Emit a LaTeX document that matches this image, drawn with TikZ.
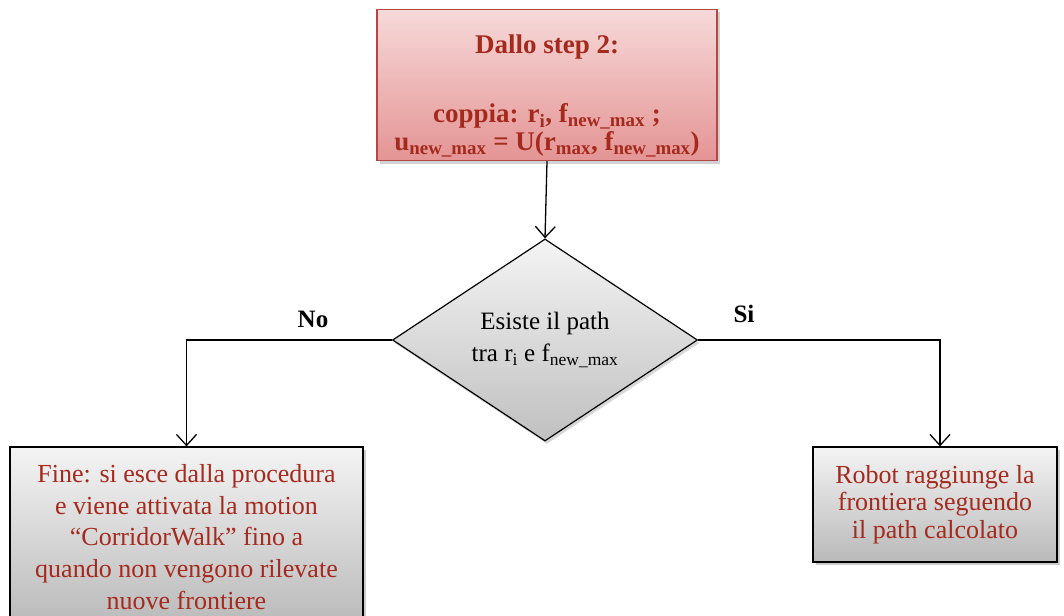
\documentclass[tikz,border=0pt]{standalone}
\usepackage{fontspec}
\setmainfont{Liberation Serif}
\usetikzlibrary{shapes.geometric,arrows.meta,shadows}
\definecolor{txtred}{HTML}{A52A1E}
\definecolor{pinktop}{HTML}{F7D9D9}
\definecolor{pinkbot}{HTML}{E49494}
\definecolor{pinkedge}{HTML}{B04848}
\definecolor{graytop}{HTML}{F4F4F4}
\definecolor{graybot}{HTML}{B9B9B9}
\tikzset{
  startbox/.style={rectangle, draw=pinkedge, line width=1.2pt, top color=pinktop, bottom color=pinkbot,
    minimum width=340pt, minimum height=150pt, align=center, text=txtred, font=\bfseries\fontsize{27}{28}\selectfont,
    drop shadow={opacity=0.35, shadow xshift=3pt, shadow yshift=-3pt}},
  endbox/.style={rectangle, draw=black, line width=1.2pt, top color=graytop, bottom color=graybot,
    align=center, text=txtred,
    drop shadow={opacity=0.4, shadow xshift=3pt, shadow yshift=-3pt}},
  decision/.style={diamond, draw=black, line width=1.2pt, top color=graytop, bottom color=graybot!90,
    minimum width=305pt, minimum height=192pt, inner sep=0pt, align=center, font=\fontsize{25}{32}\selectfont,
    drop shadow={opacity=0.3, shadow xshift=2pt, shadow yshift=-3pt}},
  link/.style={draw=black, line width=1.3pt, -{Straight Barb[length=11pt, width=20pt, line width=1.3pt]}},
  branch/.style={font=\bfseries\fontsize{25}{28}\selectfont, text=black}
}
\begin{document}
\begin{tikzpicture}[x=1pt, y=1pt]
  \clip (0,0) rectangle (1064,615);
  \fill[white] (0,0) rectangle (1064,615);

  % start box
  \node[startbox] (start) at (547,530) {\rule{0pt}{41pt}Dallo step 2:\\[41pt]
    coppia: r\textsubscript{i}, f\textsubscript{new\_max} ;\\
    u\textsubscript{new\_max} = U(r\textsubscript{max}, f\textsubscript{new\_max})};

  % decision
  \node[decision] (dec) at (545,275) {Esiste il path\\tra r\textsubscript{i} e f\textsubscript{new\_max}};

  % outcome boxes
  \node[endbox, minimum width=353pt, minimum height=180pt, font=\fontsize{26}{31.7}\selectfont] (fine) at (186.5,78) {Fine: si esce dalla procedura\\
    e viene attivata la motion\\
    “CorridorWalk” fino a\\
    quando non vengono rilevate\\
    nuove frontiere};
  \node[endbox, minimum width=244pt, minimum height=115pt, font=\fontsize{26}{27.5}\selectfont] (robot) at (935,110.5) {Robot raggiunge la\\
    frontiera seguendo\\
    il path calcolato};

  % connectors
  \draw[link] (start.south) -- (dec.north);
  \draw[link] (dec.west) -| (fine.north);
  \draw[link] (dec.east) -| ([xshift=5pt]robot.north);

  % branch labels
  \node[branch] (no) at (313,296) {No};
  \node[branch] (si) at (744,301) {Si};
\end{tikzpicture}
\end{document}
